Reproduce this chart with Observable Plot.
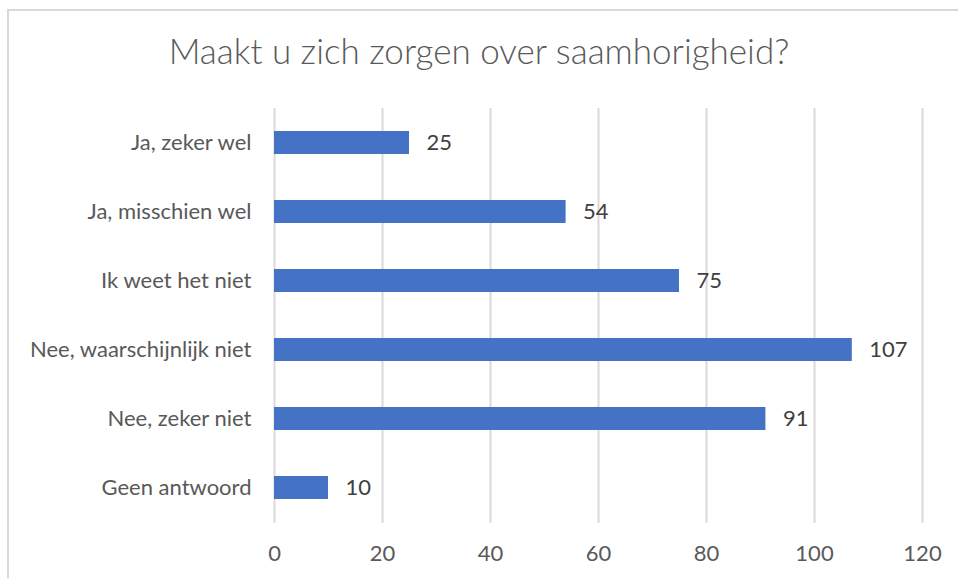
<!DOCTYPE html>
<html>
<head>
<meta charset="utf-8">
<script src="https://cdn.jsdelivr.net/npm/d3@7"></script>
<script src="https://cdn.jsdelivr.net/npm/@observablehq/plot@0.6"></script>
<style>
  html, body { margin: 0; padding: 0; background: #fff; }
  #wrap { position: relative; width: 958px; height: 578px; overflow: hidden; font-family: Lato, "Open Sans", sans-serif; }
  #frame { position: absolute; left: 7px; top: 9px; width: 980px; height: 600px; border: 2px solid #d9d9d9; box-sizing: border-box; }
  #title { position: absolute; left: 0; top: 0; width: 958px; height: 90px; text-align: center; font-size: 35px; font-weight: 300; line-height: 36px; padding-top: 32px; box-sizing: border-box; color: #595959; }
  #chart { position: absolute; left: 0; top: 90px; }
</style>
</head>
<body>
<div id="wrap">
  <div id="frame"></div>
  <div id="title">Maakt u zich zorgen over saamhorigheid?</div>
  <div id="chart"></div>
</div>
<script>
const categories = ["Ja, zeker wel", "Ja, misschien wel", "Ik weet het niet", "Nee, waarschijnlijk niet", "Nee, zeker niet", "Geen antwoord"];
const values = [25, 54, 75, 107, 91, 10];
const xTicks = [0, 20, 40, 60, 80, 100, 120];

const data = categories.map((c, i) => ({category: c, value: values[i]}));

const plot = Plot.plot({
  width: 958,
  height: 488,
  marginTop: 18,
  marginBottom: 55,
  marginLeft: 274,
  marginRight: 36,
  style: {fontFamily: "Lato, 'Open Sans', sans-serif", fontSize: "22px", color: "#595959", background: "transparent"},
  x: {domain: [0, 120], ticks: xTicks, label: null},
  y: {domain: categories, label: null, paddingInner: 0.66, paddingOuter: 0.33},
  marks: [
    Plot.ruleX(xTicks, {stroke: "#d9d9d9", strokeWidth: 2, strokeOpacity: 1}),
    Plot.barX(data, {x: "value", y: "category", fill: "#4472C4"}),
    Plot.text(data, {x: "value", y: "category", text: d => String(d.value), textAnchor: "start", dx: 17, fill: "#404040", fontSize: 22}),
    Plot.axisX({ticks: xTicks, tickSize: 0, tickPadding: 22, fontSize: 22, fill: "#595959", label: null}),
    Plot.axisY({tickSize: 0, tickPadding: 23, fontSize: 22, fill: "#595959", label: null})
  ]
});
document.getElementById("chart").appendChild(plot);
</script>
</body>
</html>
